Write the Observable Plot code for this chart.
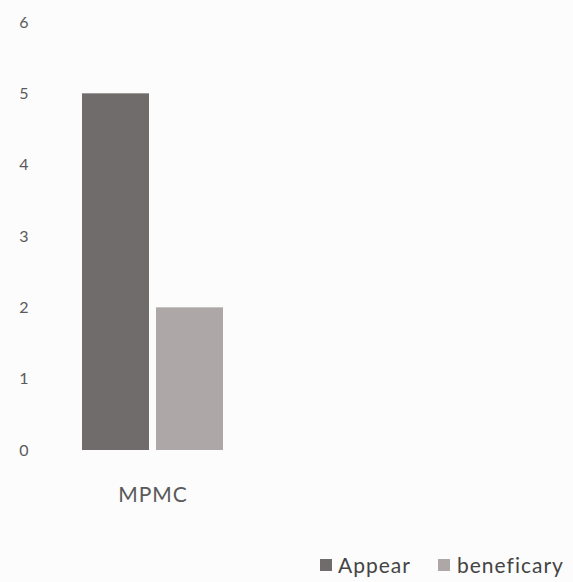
<!DOCTYPE html>
<html>
<head>
<meta charset="utf-8">
<script src="https://cdn.jsdelivr.net/npm/d3@7"></script>
<script src="https://cdn.jsdelivr.net/npm/@observablehq/plot@0.6"></script>
<style>
  body { margin: 0; background: #fcfcfc; font-family: Lato, "Open Sans", sans-serif; }
  #legend { width: 573px; height: 37px; position: relative; font-size: 21px; letter-spacing: 1px; color: #444; }
  #legend .sw { position: absolute; top: 14px; width: 12px; height: 12px; }
  #legend .tx { position: absolute; top: 8px; line-height: 24px; }
</style>
</head>
<body>
<div id="chart"></div>
<div id="legend"></div>
<script>
const categories = ["MPMC"];
const series = ["Appear", "beneficary"];
const values = [5, 2];
const colors = ["#716c6c", "#aea7a7"];
const yTicks = [0, 1, 2, 3, 4, 5, 6];

const data = series.map((s, i) => ({category: categories[0], series: s, value: values[i]}));

const chart = Plot.plot({
  width: 573,
  height: 545,
  marginTop: 22,
  marginBottom: 95,
  marginLeft: 82,
  marginRight: 350,
  style: {fontFamily: "Lato, 'Open Sans', sans-serif", fontSize: "16px", color: "#5a5a5a", background: "#fcfcfc"},
  y: {domain: [0, 6], ticks: yTicks, tickFormat: d => String(d), tickSize: 0, tickPadding: 54, label: null},
  fx: {domain: categories, padding: 0, label: null, tickSize: 0, tickPadding: 37},
  x: {domain: series, paddingInner: 0.1, paddingOuter: 0, axis: null},
  color: {domain: series, range: colors},
  marks: [
    Plot.barY(data, {fx: "category", x: "series", y: "value", fill: "series"})
  ]
});
chart.querySelectorAll("g[aria-label='fx-axis tick label'] text").forEach(t => {
  t.style.fontSize = "21px";
  t.style.letterSpacing = "1px";
});
document.getElementById("chart").appendChild(chart);

const legend = document.getElementById("legend");
const swx = [320, 438];
const txx = [338, 457];
series.forEach((s, i) => {
  const sw = document.createElement("span");
  sw.className = "sw";
  sw.style.left = swx[i] + "px";
  sw.style.background = colors[i];
  const t = document.createElement("span");
  t.className = "tx";
  t.style.left = txx[i] + "px";
  t.textContent = s;
  legend.appendChild(sw);
  legend.appendChild(t);
});
</script>
</body>
</html>
